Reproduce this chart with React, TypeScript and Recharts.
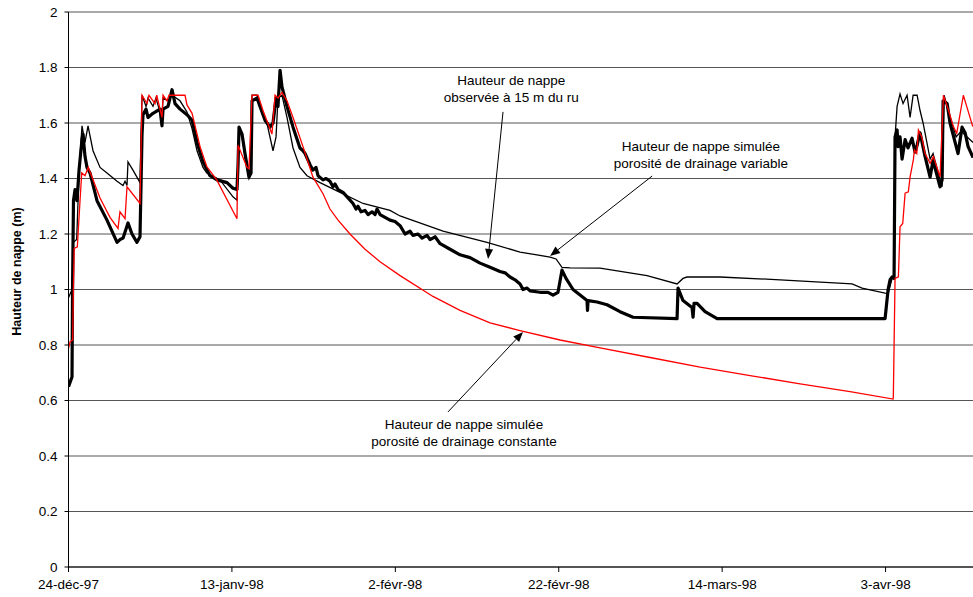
import React from 'react';
import { LineChart, Line, XAxis, YAxis, CartesianGrid, ReferenceLine, ReferenceDot } from 'recharts';

// x values are days counted from 24-déc-97
const xTickDays = [0, 20, 40, 60, 80, 100];
const xTickLabels = ['24-déc-97', '13-janv-98', '2-févr-98', '22-févr-98', '14-mars-98', '3-avr-98'];
const yTicks = [0, 0.2, 0.4, 0.6, 0.8, 1, 1.2, 1.4, 1.6, 1.8, 2];
const yTickLabels = ['0', '0.2', '0.4', '0.6', '0.8', '1', '1.2', '1.4', '1.6', '1.8', '2'];
const yAxisTitle = 'Hauteur de nappe (m)';

// Observed water table (thick black)
const observedDays = [0, 0.43, 0.5, 0.61, 0.8, 1.04, 1.29, 1.65, 1.77, 2.02, 2.26, 2.63, 3.49, 4.71, 5.94, 6.3, 6.67, 7.28, 7.77, 8.38, 8.75, 9.0, 9.12, 9.49, 9.73, 10.34, 11.2, 11.44, 11.57, 12.18, 12.67, 13.04, 13.65, 14.5, 15.12, 15.73, 16.46, 17.32, 18.18, 19.4, 20.13, 20.62, 20.75, 20.87, 21.24, 21.6, 22.09, 22.34, 22.46, 23.07, 23.44, 24.05, 24.66, 25.03, 25.4, 25.64, 25.89, 26.13, 26.74, 27.48, 28.33, 28.7, 28.95, 29.56, 29.92, 30.29, 30.54, 31.15, 31.52, 32.0, 32.37, 32.62, 32.99, 33.6, 34.21, 34.82, 35.19, 35.43, 35.8, 36.29, 36.66, 37.15, 37.52, 37.76, 38.13, 38.74, 39.35, 39.96, 40.58, 41.19, 41.8, 42.16, 42.78, 43.27, 43.88, 44.25, 44.86, 45.48, 46.7, 47.92, 49.14, 50.37, 51.59, 52.81, 53.43, 54.04, 54.65, 55.26, 55.63, 56.12, 56.49, 57.71, 58.69, 59.3, 59.91, 60.4, 60.89, 61.75, 62.61, 63.46, 63.52, 63.59, 64.69, 65.91, 67.5, 69.1, 74.48, 74.6, 75.21, 76.31, 76.44, 76.56, 76.93, 77.91, 79.38, 99.94, 100.31, 100.55, 100.8, 101.04, 101.16, 101.41, 101.53, 101.77, 102.02, 102.39, 102.75, 103.24, 103.61, 103.86, 104.22, 104.83, 105.45, 105.81, 106.67, 106.92, 107.04, 107.53, 107.89, 108.51, 108.87, 109.36, 109.73, 110.1, 110.71];
const observedLevels = [0.65, 0.685, 1.02, 1.32, 1.36, 1.32, 1.43, 1.54, 1.56, 1.48, 1.44, 1.42, 1.32, 1.25, 1.17, 1.18, 1.185, 1.24, 1.2, 1.17, 1.19, 1.56, 1.63, 1.65, 1.62, 1.635, 1.65, 1.59, 1.65, 1.66, 1.72, 1.67, 1.65, 1.63, 1.61, 1.53, 1.46, 1.41, 1.395, 1.385, 1.365, 1.36, 1.45, 1.585, 1.56, 1.49, 1.405, 1.42, 1.68, 1.69, 1.66, 1.61, 1.585, 1.6, 1.69, 1.66, 1.79, 1.73, 1.66, 1.585, 1.51, 1.5, 1.49, 1.45, 1.43, 1.44, 1.41, 1.395, 1.4, 1.39, 1.37, 1.38, 1.36, 1.35, 1.33, 1.31, 1.29, 1.3, 1.28, 1.285, 1.27, 1.28, 1.27, 1.29, 1.27, 1.26, 1.25, 1.245, 1.23, 1.2, 1.21, 1.195, 1.2, 1.185, 1.195, 1.18, 1.19, 1.165, 1.145, 1.125, 1.115, 1.095, 1.08, 1.065, 1.06, 1.045, 1.035, 1.02, 1.0, 1.005, 0.995, 0.99, 0.99, 0.98, 0.99, 1.07, 1.04, 1.0, 0.98, 0.96, 0.925, 0.96, 0.955, 0.945, 0.92, 0.9, 0.895, 1.005, 0.96, 0.935, 0.9, 0.95, 0.95, 0.92, 0.895, 0.895, 1.0, 1.035, 1.045, 1.04, 1.55, 1.575, 1.515, 1.55, 1.47, 1.54, 1.51, 1.545, 1.495, 1.52, 1.565, 1.48, 1.405, 1.465, 1.37, 1.395, 1.68, 1.67, 1.6, 1.53, 1.49, 1.585, 1.565, 1.515, 1.475];

// Simulated, variable drainage porosity (thin black)
const variableDays = [0, 0.43, 0.5, 0.6, 1.0, 1.29, 1.65, 2.02, 2.39, 3.0, 3.86, 4.71, 5.94, 6.67, 6.92, 7.16, 7.28, 7.89, 8.75, 9.0, 9.49, 9.73, 10.34, 10.7, 11.2, 11.44, 11.57, 12.18, 12.67, 13.65, 14.5, 15.12, 15.73, 16.46, 16.92, 18.54, 20.13, 20.62, 20.75, 20.87, 21.24, 21.6, 22.09, 22.34, 22.46, 23.07, 23.44, 24.28, 25.03, 25.4, 25.64, 26.13, 26.74, 27.48, 28.33, 29.19, 30.78, 33.23, 36.05, 39.35, 40.58, 42.04, 45.84, 51.22, 55.26, 58.94, 59.67, 60.4, 61.39, 65.06, 70.81, 74.48, 75.21, 75.7, 79.74, 87.09, 95.9, 97.12, 99.94, 100.31, 100.8, 101.04, 101.16, 101.41, 101.77, 102.14, 102.63, 103.0, 103.37, 103.86, 104.22, 104.59, 105.45, 105.81, 106.92, 107.16, 107.77, 108.63, 109.24, 110.71];
const variableLevels = [0.97, 1.0, 1.02, 1.17, 1.18, 1.42, 1.59, 1.53, 1.59, 1.5, 1.44, 1.42, 1.39, 1.375, 1.39, 1.375, 1.46, 1.43, 1.385, 1.7, 1.66, 1.69, 1.66, 1.69, 1.64, 1.62, 1.69, 1.68, 1.7, 1.68, 1.64, 1.58, 1.5, 1.44, 1.42, 1.395, 1.334, 1.322, 1.45, 1.585, 1.55, 1.48, 1.4, 1.42, 1.7, 1.7, 1.66, 1.6, 1.5, 1.55, 1.69, 1.7, 1.62, 1.51, 1.44, 1.41, 1.385, 1.35, 1.31, 1.285, 1.265, 1.25, 1.21, 1.17, 1.135, 1.117, 1.11, 1.08, 1.078, 1.077, 1.05, 1.02, 1.04, 1.045, 1.045, 1.035, 1.02, 1.005, 0.987, 0.985, 1.04, 1.05, 1.55, 1.66, 1.705, 1.67, 1.7, 1.62, 1.7, 1.7, 1.645, 1.6, 1.47, 1.49, 1.37, 1.7, 1.635, 1.55, 1.57, 1.53];

// Simulated, constant drainage porosity (red)
const constantDays = [0, 0.2, 0.51, 0.6, 0.7, 1.08, 1.41, 1.62, 2.02, 2.42, 3.86, 5.08, 6.06, 6.3, 6.92, 7.16, 8.75, 9.0, 9.61, 9.85, 10.59, 10.8, 11.44, 11.57, 12.06, 12.3, 14.26, 14.5, 15.12, 16.1, 16.92, 18.14, 20.62, 20.75, 21.85, 22.09, 22.46, 23.2, 23.8, 24.9, 25.28, 25.64, 26.13, 26.74, 27.48, 28.7, 29.92, 31.15, 32.0, 32.99, 34.45, 36.29, 38.13, 40.58, 44.61, 47.92, 51.59, 55.26, 60.16, 65.06, 71.18, 77.3, 83.42, 89.54, 95.65, 100.92, 100.95, 101.16, 101.57, 101.77, 102.1, 102.39, 102.79, 103.0, 103.4, 103.53, 103.82, 104.02, 104.43, 104.83, 105.45, 105.85, 106.67, 107.08, 107.69, 108.3, 108.71, 109.52, 109.94, 110.67];
const constantLevels = [0.788, 0.812, 0.818, 1.0, 1.148, 1.154, 1.32, 1.42, 1.41, 1.44, 1.33, 1.26, 1.22, 1.28, 1.255, 1.37, 1.31, 1.7, 1.67, 1.7, 1.67, 1.7, 1.62, 1.7, 1.68, 1.7, 1.7, 1.665, 1.635, 1.515, 1.443, 1.395, 1.255, 1.52, 1.44, 1.435, 1.7, 1.7, 1.645, 1.56, 1.7, 1.69, 1.71, 1.68, 1.62, 1.515, 1.405, 1.345, 1.29, 1.25, 1.2, 1.145, 1.1, 1.05, 0.975, 0.925, 0.88, 0.852, 0.818, 0.79, 0.755, 0.72, 0.69, 0.66, 0.632, 0.605, 0.614, 1.04, 1.046, 1.226, 1.238, 1.347, 1.352, 1.406, 1.467, 1.503, 1.49, 1.575, 1.55, 1.49, 1.455, 1.479, 1.406, 1.7, 1.647, 1.587, 1.563, 1.7, 1.659, 1.587];

// Annotations (day, level)
const noteTexts = [
  ['Hauteur de nappe', 'observée à 15 m du ru'],
  ['Hauteur de nappe simulée', 'porosité de drainage variable'],
  ['Hauteur de nappe simulée', 'porosité de drainage constante'],
];
const noteDays = [54.2, 77.4, 48.4];
const noteLevels = [1.737, 1.5, 0.499];
const arrowTailDays = [53.18, 71.44, 46.45];
const arrowTailLevels = [1.64, 1.409, 0.559];
const arrowTipDays = [51.35, 58.94, 55.63];
const arrowTipLevels = [1.11, 1.121, 0.847];

const FONT = '"Liberation Sans", Arial, Helvetica, sans-serif';

const toSeries = (days: number[], levels: number[]) => days.map((d, i) => ({ day: d, h: levels[i] }));
const observedData = toSeries(observedDays, observedLevels);
const variableData = toSeries(variableDays, variableLevels);
const constantData = toSeries(constantDays, constantLevels);

const arrowShape = (p: any) => {
  const x1 = Number(p.x1), y1 = Number(p.y1), x2 = Number(p.x2), y2 = Number(p.y2);
  const ang = Math.atan2(y2 - y1, x2 - x1);
  const L = 10, W = 4;
  const bx = x2 - L * Math.cos(ang);
  const by = y2 - L * Math.sin(ang);
  const pts = `${x2},${y2} ${bx + W * Math.sin(ang)},${by - W * Math.cos(ang)} ${bx - W * Math.sin(ang)},${by + W * Math.cos(ang)}`;
  return (
    <g>
      <line x1={x1} y1={y1} x2={bx} y2={by} stroke="#000" strokeWidth={1} />
      <polygon points={pts} fill="#000" />
    </g>
  );
};

const noteShape = (lines: string[]) => (p: any) => (
  <text x={p.cx} y={p.cy} textAnchor="middle" fontSize={13.5} fill="#000" fontFamily={FONT}>
    {lines.map((l, i) => (
      <tspan key={i} x={p.cx} dy={i === 0 ? 0 : 17.5}>{l}</tspan>
    ))}
  </text>
);

const yTitle = (props: any) => {
  const vb = props && props.viewBox ? props.viewBox : { x: 8.5, y: 12, width: 60, height: 555 };
  const cx = vb.x + 8;
  const cy = vb.y + vb.height / 2 - 18;
  return (
    <text x={cx} y={cy} transform={`rotate(-90, ${cx}, ${cy})`} textAnchor="middle" dominantBaseline="central"
      fontSize={12.5} fontWeight="bold" fill="#000" fontFamily={FONT}>
      {yAxisTitle}
    </text>
  );
};

export default function App() {
  return (
    <div style={{ position: 'absolute', left: 0, top: 0, background: '#fff' }}>
      <LineChart width={973} height={597} margin={{ top: 12, right: 0, bottom: 0, left: 8.5 }}>
        <CartesianGrid horizontal vertical={false} stroke="#555" strokeWidth={1} />
        <XAxis
          dataKey="day"
          type="number"
          domain={[0, 110.7]}
          allowDataOverflow
          ticks={xTickDays}
          tickFormatter={(v: number) => xTickLabels[xTickDays.indexOf(v)] ?? ''}
          height={30}
          tickSize={5}
          tickMargin={7}
          stroke="#000"
          tick={{ fill: '#000', fontSize: 13.5, fontFamily: FONT }}
          tickLine={{ stroke: '#000' }}
          axisLine={{ stroke: '#000' }}
        />
        <YAxis
          type="number"
          domain={[0, 2]}
          ticks={yTicks}
          tickFormatter={(v: number) => yTickLabels[yTicks.indexOf(v)] ?? String(v)}
          width={60}
          tickSize={4}
          tickMargin={7}
          stroke="#000"
          tick={{ fill: '#000', fontSize: 13.5, fontFamily: FONT }}
          tickLine={{ stroke: '#000' }}
          axisLine={{ stroke: '#000' }}
          label={yTitle}
        />
        <Line data={observedData} dataKey="h" type="linear" dot={false} stroke="#000" strokeWidth={3.2} isAnimationActive={false} strokeLinejoin="round" />
        <Line data={variableData} dataKey="h" type="linear" dot={false} stroke="#000" strokeWidth={1.3} isAnimationActive={false} />
        <Line data={constantData} dataKey="h" type="linear" dot={false} stroke="#ff0000" strokeWidth={1.3} isAnimationActive={false} />
        {arrowTailDays.map((d, i) => (
          <ReferenceLine
            key={'a' + i}
            segment={[{ x: d, y: arrowTailLevels[i] }, { x: arrowTipDays[i], y: arrowTipLevels[i] }]}
            stroke="#000"
            shape={arrowShape}
          />
        ))}
        {noteDays.map((d, i) => (
          <ReferenceDot key={'n' + i} x={d} y={noteLevels[i]} r={0} shape={noteShape(noteTexts[i])} />
        ))}
      </LineChart>
    </div>
  );
}
